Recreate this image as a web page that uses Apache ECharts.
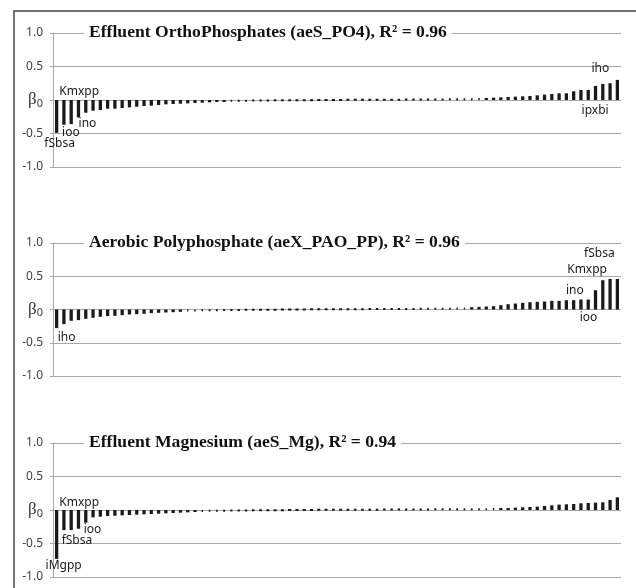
<!DOCTYPE html>
<html>
<head>
<meta charset="utf-8">
<script src="https://cdn.jsdelivr.net/npm/echarts@6/dist/echarts.min.js"></script>
<style>
  html, body { margin: 0; padding: 0; background: #fff; }
  #chart { width: 636px; height: 588px; }
</style>
</head>
<body>
<div id="chart"></div>
<script>
// Ranked standardized sensitivity coefficients (beta_0) for 78 model parameters,
// sorted from most negative to most positive, one panel per model output.
const ranks = Array.from({ length: 78 }, (_, i) => i + 1);

const panelTitles = [
  'Effluent OrthoPhosphates (aeS_PO4), R\u00B2 = 0.96',
  'Aerobic Polyphosphate (aeX_PAO_PP), R\u00B2 = 0.96',
  'Effluent Magnesium (aeS_Mg), R\u00B2 = 0.94'
];

const betaPO4 = [
  -0.49, -0.37, -0.36, -0.26, -0.19, -0.16, -0.15, -0.13, -0.13, -0.12,
  -0.11, -0.10, -0.09, -0.085, -0.075, -0.065, -0.06, -0.055, -0.05, -0.045,
  -0.04, -0.035, -0.03, -0.03, -0.025, -0.02, -0.02, -0.018, -0.015, -0.012,
  -0.01, -0.01, -0.008, -0.006, -0.005, -0.004, -0.003, -0.002,
  0.002, 0.003, 0.004, 0.005, 0.006, 0.007, 0.008, 0.009, 0.01, 0.011,
  0.012, 0.013, 0.014, 0.015, 0.016, 0.018, 0.02, 0.021, 0.023, 0.025,
  0.027, 0.03, 0.035, 0.04, 0.045, 0.05, 0.055, 0.06, 0.07, 0.08,
  0.09, 0.10, 0.10, 0.13, 0.15, 0.15, 0.21, 0.24, 0.25, 0.30
];

const betaPP = [
  -0.28, -0.22, -0.17, -0.16, -0.14, -0.125, -0.11, -0.10, -0.095, -0.085,
  -0.075, -0.07, -0.065, -0.055, -0.05, -0.045, -0.04, -0.035, -0.03, -0.028,
  -0.025, -0.022, -0.02, -0.018, -0.015, -0.012, -0.01, -0.008, -0.006, -0.005,
  -0.004, -0.003, -0.002,
  0.002, 0.003, 0.004, 0.005, 0.006, 0.007, 0.008, 0.009, 0.01, 0.011,
  0.012, 0.013, 0.014, 0.015, 0.016, 0.017, 0.018, 0.02, 0.021, 0.022,
  0.024, 0.026, 0.028, 0.03, 0.035, 0.04, 0.045,
  0.05, 0.065, 0.08, 0.09, 0.10, 0.11, 0.115, 0.12, 0.13, 0.13,
  0.14, 0.14, 0.15, 0.15, 0.29, 0.44, 0.46, 0.46
];

const betaMg = [
  -0.73, -0.30, -0.30, -0.28, -0.19, -0.11, -0.10, -0.09, -0.085, -0.08,
  -0.075, -0.07, -0.065, -0.06, -0.055, -0.05, -0.045, -0.04, -0.035, -0.03,
  -0.028, -0.025, -0.022, -0.02, -0.018, -0.015, -0.012, -0.01, -0.008, -0.006,
  -0.005, -0.004, -0.003, -0.002,
  0.002, 0.003, 0.004, 0.005, 0.006, 0.007, 0.008, 0.009, 0.01, 0.01,
  0.011, 0.012, 0.013, 0.014, 0.015, 0.016, 0.017, 0.018, 0.019, 0.02,
  0.021, 0.022, 0.023, 0.024, 0.025, 0.026, 0.028, 0.03, 0.03,
  0.035, 0.04, 0.045, 0.05, 0.06, 0.07, 0.08, 0.085, 0.09, 0.10,
  0.105, 0.11, 0.115, 0.15, 0.19
];

// Names of the influential parameters, keyed by rank position (0-based)
const namesPO4 = [[0, 'fSbsa'], [1, 'ioo'], [2, 'Kmxpp'], [3, 'ino'], [76, 'ipxbi'], [77, 'iho']];
const namesPP  = [[0, 'iho'], [74, 'ioo'], [75, 'ino'], [76, 'Kmxpp'], [77, 'fSbsa']];
const namesMg  = [[0, 'iMgpp'], [1, 'fSbsa'], [2, 'Kmxpp'], [3, 'ioo']];

const yTicks = { min: -1, max: 1, step: 0.5 };

// label placement: [panel][rank] -> [position, dx, dy]
const labelPlace = [
  { 0: ['bottom', 3, 0], 1: ['bottom', 7, -3], 2: ['top', 8, 3], 3: ['bottom', 9, -5],
    76: ['bottom', -15, 0], 77: ['top', -17, 0] },
  { 0: ['bottom', 10, -2], 74: ['bottom', -7, -3], 75: ['top', -28, 21],
    76: ['top', -23, 2], 77: ['top', -18, -14] },
  { 0: ['bottom', 7, -4], 1: ['bottom', 13, -1], 2: ['top', 8, 4], 3: ['bottom', 14, -10] }
];

const series = [betaPO4, betaPP, betaMg];
const names = [namesPO4, namesPP, namesMg];
const gridTops = [33, 243, 443];
const gridHeights = [134, 133, 134];

const chart = echarts.init(document.getElementById('chart'), null, { renderer: 'canvas' });

const grid = [], xAxis = [], yAxis = [], seriesOpt = [], title = [];
const axisGray = '#a8a8a8';

series.forEach((vals, p) => {
  grid.push({ left: 53, right: 15, top: gridTops[p], height: gridHeights[p], containLabel: false });
  xAxis.push({
    type: 'category', gridIndex: p, data: ranks,
    axisLine: { show: false }, axisTick: { show: false }, axisLabel: { show: false },
    splitLine: { show: false }
  });
  yAxis.push({
    type: 'value', gridIndex: p, min: yTicks.min, max: yTicks.max, interval: yTicks.step,
    axisLine: { show: true, lineStyle: { color: axisGray, width: 1 } },
    axisTick: { show: true, length: 3, lineStyle: { color: axisGray, width: 1 } },
    splitLine: { show: true, lineStyle: { color: axisGray, width: 1 } },
    axisLabel: {
      margin: 10,
      color: '#404040',
      fontFamily: 'Noto Sans',
      fontSize: 12,
      formatter: v => (v === 0 ? '{b|\u03B2}{s|0}' : v.toFixed(1)),
      rich: {
        b: { fontFamily: 'Liberation Serif', fontSize: 17, color: '#333' },
        s: { fontFamily: 'Noto Sans', fontSize: 11, color: '#404040', padding: [7, 0, 0, 0] }
      }
    }
  });
  const nameMap = new Map(names[p]);
  const data = vals.map((v, i) => {
    if (!nameMap.has(i)) return v;
    const pl = labelPlace[p][i];
    return {
      value: v,
      label: {
        show: true, formatter: nameMap.get(i), position: pl[0], offset: [pl[1], pl[2]],
        fontFamily: 'Noto Sans', fontSize: 12, color: '#1a1a1a', distance: 5
      }
    };
  });
  seriesOpt.push({
    type: 'bar', xAxisIndex: p, yAxisIndex: p, data,
    barCategoryGap: '55%',
    itemStyle: { color: '#000', borderColor: '#1a1a1a', borderWidth: 2 },
    silent: true, animation: false
  });
  title.push({
    text: panelTitles[p],
    left: 84, top: gridTops[p] - 11,
    padding: [0, 5],
    backgroundColor: '#fff',
    textStyle: { fontFamily: 'Liberation Serif', fontWeight: 'bold', fontSize: 17.6, color: '#111', lineHeight: 20 }
  });
});

chart.setOption({
  backgroundColor: '#fff',
  animation: false,
  title, grid, xAxis, yAxis, series: seriesOpt,
  graphic: [{
    type: 'rect', silent: true, z: 100,
    shape: { x: 14, y: 11, width: 700, height: 700 },
    style: { fill: 'none', stroke: '#444', lineWidth: 1.5 }
  }]
});
</script>
</body>
</html>
